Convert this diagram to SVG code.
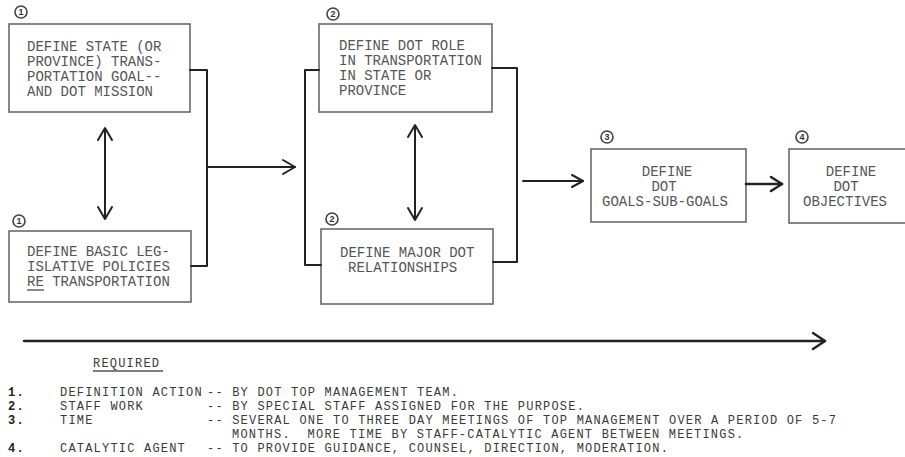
<svg xmlns="http://www.w3.org/2000/svg" width="905" height="457" viewBox="0 0 905 457">
<defs>
<style>
.box{fill:#fff;stroke:#6a6a6a;stroke-width:1.6}
.t{font-family:"Liberation Mono","Courier New",monospace;font-size:14px;fill:#555}
.tm{font-family:"Liberation Mono","Courier New",monospace;font-size:14px;fill:#555;text-anchor:middle}
.lg{font-family:"Liberation Mono","Courier New",monospace;font-size:12px;letter-spacing:1.2px;fill:#3a3a3a}
.num{font-family:"Liberation Mono","Courier New",monospace;font-size:12px;letter-spacing:1.2px;fill:#222;font-weight:bold}
.c{fill:none;stroke:#444;stroke-width:1.6}
.cn{font-family:"Liberation Sans",Arial,sans-serif;font-size:9px;fill:#333;text-anchor:middle;font-weight:bold}
.ln{fill:none;stroke:#222;stroke-width:2;stroke-linecap:round;stroke-linejoin:round}
.ul{stroke:#555;stroke-width:1.4}
</style>
</defs>

<g id="node-1a">
<rect class="box" x="9" y="24" width="181" height="88"/>
<circle class="c" cx="21" cy="12" r="6"/><text class="cn" x="21" y="15">1</text>
<text class="t" x="27" y="51">DEFINE STATE (OR</text>
<text class="t" x="27" y="66">PROVINCE) TRANS-</text>
<text class="t" x="27" y="81">PORTATION GOAL--</text>
<text class="t" x="27" y="96">AND DOT MISSION</text>
</g>

<g id="node-1b">
<rect class="box" x="9" y="231" width="182" height="71"/>
<circle class="c" cx="19" cy="221" r="6"/><text class="cn" x="19" y="224">1</text>
<text class="t" x="27" y="256">DEFINE BASIC LEG-</text>
<text class="t" x="27" y="271">ISLATIVE POLICIES</text>
<text class="t" x="27" y="286">RE TRANSPORTATION</text>
<line class="ul" x1="27" y1="290" x2="44" y2="290"/>
</g>

<g id="node-2a">
<rect class="box" x="319" y="24" width="173" height="88"/>
<circle class="c" cx="333" cy="14" r="6"/><text class="cn" x="333" y="17">2</text>
<text class="t" x="339" y="50">DEFINE DOT ROLE</text>
<text class="t" x="339" y="65">IN TRANSPORTATION</text>
<text class="t" x="339" y="80">IN STATE OR</text>
<text class="t" x="339" y="95">PROVINCE</text>
</g>

<g id="node-2b">
<rect class="box" x="321" y="229" width="172" height="75"/>
<circle class="c" cx="332" cy="219" r="6"/><text class="cn" x="332" y="222">2</text>
<text class="t" x="340" y="257">DEFINE MAJOR DOT</text>
<text class="t" x="348" y="272">RELATIONSHIPS</text>
</g>

<g id="node-3">
<rect class="box" x="591" y="149" width="155" height="73"/>
<circle class="c" cx="607" cy="137" r="6"/><text class="cn" x="607" y="140">3</text>
<text class="tm" x="667" y="176">DEFINE</text>
<text class="tm" x="664" y="191">DOT</text>
<text class="tm" x="665" y="206">GOALS-SUB-GOALS</text>
</g>

<g id="node-4">
<rect class="box" x="789" y="149" width="125" height="74"/>
<circle class="c" cx="802" cy="137" r="6"/><text class="cn" x="802" y="140">4</text>
<text class="tm" x="851" y="176">DEFINE</text>
<text class="tm" x="846" y="191">DOT</text>
<text class="tm" x="845" y="206">OBJECTIVES</text>
</g>

<g id="connectors">
<polyline class="ln" points="190,70 207,70 207,266 191,266"/>
<line class="ln" x1="207" y1="167" x2="295" y2="167"/>
<polyline class="ln" points="283,160 295,167 283,174"/>
<line class="ln" x1="105" y1="129" x2="105" y2="218"/>
<polyline class="ln" points="98,140 105,128 112,140"/>
<polyline class="ln" points="98,207 105,219 112,207"/>
<polyline class="ln" points="319,70 305,70 305,265 321,265"/>
<polyline class="ln" points="492,68 517,68 517,262 493,262"/>
<line class="ln" x1="415" y1="126" x2="415" y2="219"/>
<polyline class="ln" points="408,137 415,125 422,137"/>
<polyline class="ln" points="408,208 415,220 422,208"/>
<line class="ln" x1="523" y1="181" x2="583" y2="181"/>
<polyline class="ln" points="572,175 583,181 572,187"/>
<line class="ln" x1="746" y1="184" x2="782" y2="184" style="stroke-width:2.6"/>
<polyline class="ln" points="771,177 782,184 771,191" style="stroke-width:2.6"/>
<line class="ln" x1="24" y1="341" x2="825" y2="341" style="stroke-width:2.4"/>
<polyline class="ln" points="813,333 825,341 813,349" style="stroke-width:2.4"/>
</g>

<g id="legend">
<text class="lg" x="93" y="367">REQUIRED</text>
<line class="ul" x1="93" y1="371" x2="163" y2="371"/>
<text class="num" x="8" y="396">1.</text>
<text class="num" x="8" y="410">2.</text>
<text class="num" x="8" y="424">3.</text>
<text class="num" x="8" y="452">4.</text>
<text class="lg" x="60" y="396">DEFINITION ACTION</text>
<text class="lg" x="60" y="410">STAFF WORK</text>
<text class="lg" x="60" y="424">TIME</text>
<text class="lg" x="60" y="452">CATALYTIC AGENT</text>
<text class="lg" x="207" y="396">-- BY DOT TOP MANAGEMENT TEAM.</text>
<text class="lg" x="207" y="410">-- BY SPECIAL STAFF ASSIGNED FOR THE PURPOSE.</text>
<text class="lg" x="207" y="424">-- SEVERAL ONE TO THREE DAY MEETINGS OF TOP MANAGEMENT OVER A PERIOD OF 5-7</text>
<text class="lg" x="232" y="438" xml:space="preserve">MONTHS.  MORE TIME BY STAFF-CATALYTIC AGENT BETWEEN MEETINGS.</text>
<text class="lg" x="207" y="452">-- TO PROVIDE GUIDANCE, COUNSEL, DIRECTION, MODERATION.</text>
</g>
</svg>
